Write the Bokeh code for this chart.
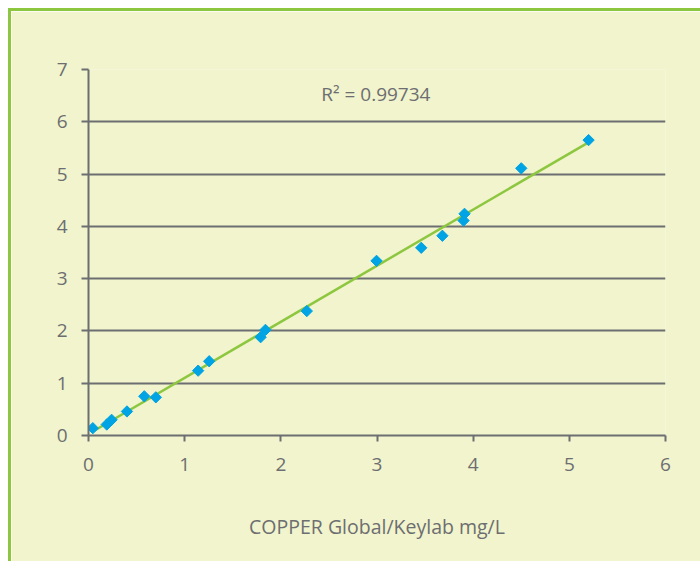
import numpy as np
from bokeh.plotting import figure
from bokeh.models import Range1d, Label, FixedTicker
from bokeh.embed import file_html
from bokeh.resources import INLINE

# Data
x_vals = [0.045, 0.19, 0.24, 0.40, 0.58, 0.70, 1.14, 1.255, 1.79, 1.84, 2.27,
          2.995, 3.46, 3.68, 3.90, 3.91, 4.50, 5.20]
y_vals = [0.14, 0.21, 0.30, 0.46, 0.75, 0.73, 1.24, 1.42, 1.88, 2.02, 2.38,
          3.34, 3.59, 3.82, 4.11, 4.24, 5.11, 5.65]
x_ticks = [0, 1, 2, 3, 4, 5, 6]
y_ticks = [0, 1, 2, 3, 4, 5, 6, 7]
r2_text = "R\u00b2 = 0.99734"
x_title = "COPPER Global/Keylab mg/L"

GRAY = "#6d6e71"
BG = "#f1f4cc"
GREEN = "#8dc63f"
BLUE = "#00a3e4"
FONT = "Open Sans"

p = figure(width=692, height=553, output_backend="svg", toolbar_location=None,
           x_range=Range1d(0, 6), y_range=Range1d(0, 7),
           min_border_left=77, min_border_right=38, min_border_top=58,
           min_border_bottom=129)
p.styles = {"border-left": f"3px solid {GREEN}", "border-top": f"3px solid {GREEN}",
            "margin-left": "8px", "margin-top": "8px"}
p.background_fill_color = BG
p.border_fill_color = BG
p.outline_line_color = None

# axes
p.xaxis.ticker = FixedTicker(ticks=x_ticks)
p.yaxis.ticker = FixedTicker(ticks=y_ticks)
for ax in (p.xaxis, p.yaxis):
    ax.axis_line_color = GRAY
    ax.axis_line_width = 2
    ax.major_tick_line_color = GRAY
    ax.major_tick_line_width = 2
    ax.major_tick_in = 0
    ax.minor_tick_line_color = None
    ax.major_label_text_font = FONT
    ax.major_label_text_font_size = "19px"
    ax.major_label_text_color = GRAY
p.xaxis.major_tick_out = 6
p.yaxis.major_tick_out = 7
p.xaxis.major_label_standoff = 16
p.yaxis.major_label_standoff = 14
p.xaxis.axis_label = x_title
p.xaxis.axis_label_text_font = FONT
p.xaxis.axis_label_text_font_size = "19.5px"
p.xaxis.axis_label_text_font_style = "normal"
p.xaxis.axis_label_text_color = GRAY
p.xaxis.axis_label_standoff = 39

p.xgrid.grid_line_color = None
p.ygrid.ticker = FixedTicker(ticks=y_ticks[1:])
p.ygrid.grid_line_color = GRAY
p.ygrid.grid_line_width = 2

# trendline from least squares fit of the data
slope, intercept = np.polyfit(x_vals, y_vals, 1)
lx = [min(x_vals), max(x_vals)]
ly = [slope * v + intercept for v in lx]
p.line(lx, ly, line_color=GREEN, line_width=2.5)

p.scatter(x_vals, y_vals, marker="square", angle=np.pi / 4, size=8,
          fill_color=BLUE, line_color=BLUE)

p.add_layout(Label(x=2.42, y=6.54, text=r2_text, text_font=FONT,
                   text_font_size="19px", text_color=GRAY,
                   text_baseline="middle", text_align="left"))

open("out.html", "w").write(file_html(p, INLINE))
